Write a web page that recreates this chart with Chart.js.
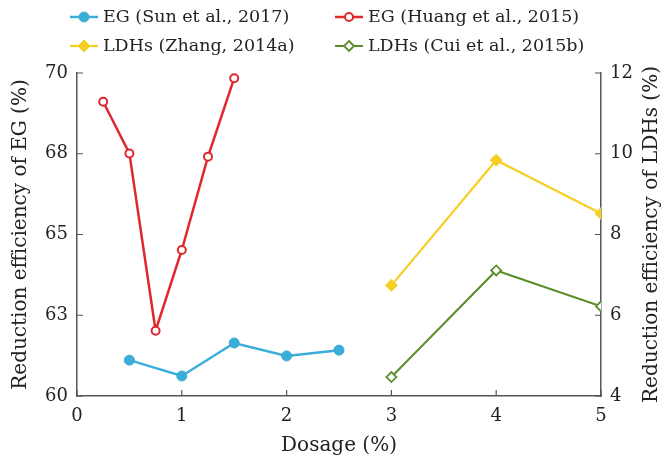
<!DOCTYPE html>
<html>
<head>
<meta charset="utf-8">
<script src="https://cdn.jsdelivr.net/npm/chart.js@4/dist/chart.umd.min.js"></script>
<style>
  body { margin: 0; background: #fff; }
</style>
</head>
<body>
<canvas id="chart" width="664" height="456"></canvas>
<script>
// values
const sunDose = [0.5, 1, 1.5, 2, 2.5];
const sunEff = [61.11, 60.62, 61.64, 61.24, 61.42];
const huangDose = [0.25, 0.5, 0.75, 1, 1.25, 1.5];
const huangEff = [69.11, 67.51, 62.02, 64.52, 67.41, 69.84];
const zhangDose = [3, 4, 5];
const zhangEff = [6.74, 9.84, 8.52];
const cuiDose = [3, 4, 5];
const cuiEff = [4.47, 7.11, 6.22];
const seriesNames = ["EG (Sun et al., 2017)", "EG (Huang et al., 2015)", "LDHs (Zhang, 2014a)", "LDHs (Cui et al., 2015b)"];

const FONT = "'DejaVu Serif', serif";
const AXIS = "#555";

function pts(xs, ys) {
  return xs.map((x, i) => ({ x: x, y: ys[i] }));
}

function marker(ctx, ds, x, y) {
  let r = ds.pointRadius;
  ctx.save();
  ctx.beginPath();
  if (ds.pointStyle === "rectRot") {
    ctx.moveTo(x, y - r); ctx.lineTo(x + r, y); ctx.lineTo(x, y + r); ctx.lineTo(x - r, y); ctx.closePath();
  } else {
    ctx.arc(x, y, r, 0, Math.PI * 2);
  }
  ctx.fillStyle = ds.pointBackgroundColor;
  ctx.fill();
  ctx.lineWidth = ds.pointBorderWidth;
  ctx.strokeStyle = ds.pointBorderColor;
  ctx.stroke();
  ctx.restore();
}

// legend in two rows + inward ticks + right axis title
const extras = {
  id: "extras",
  afterDraw(chart) {
    let ctx = chart.ctx;
    let colX = [70, 335];
    let rowY = [17, 46];
    chart.data.datasets.forEach((ds, i) => {
      let x = colX[i % 2];
      let y = rowY[Math.floor(i / 2)];
      ctx.save();
      ctx.strokeStyle = ds.borderColor;
      ctx.lineWidth = ds.borderWidth;
      ctx.beginPath();
      ctx.moveTo(x, y);
      ctx.lineTo(x + 28, y);
      ctx.stroke();
      ctx.restore();
      marker(ctx, ds, x + 14, y);
      ctx.save();
      ctx.fillStyle = "#222";
      ctx.font = "17.5px " + FONT;
      ctx.textBaseline = "middle";
      ctx.fillText(ds.label, x + 33, y);
      ctx.restore();
    });

    let a = chart.chartArea;
    ctx.save();
    ctx.strokeStyle = AXIS;
    ctx.lineWidth = 1.2;
    ctx.beginPath();
    chart.scales.x.ticks.forEach(t => {
      let px = chart.scales.x.getPixelForValue(t.value);
      ctx.moveTo(px, a.bottom); ctx.lineTo(px, a.bottom - 6);
    });
    chart.scales.y.ticks.forEach(t => {
      let py = chart.scales.y.getPixelForValue(t.value);
      ctx.moveTo(a.left, py); ctx.lineTo(a.left + 6, py);
    });
    chart.scales.y1.ticks.forEach(t => {
      let py = chart.scales.y1.getPixelForValue(t.value);
      ctx.moveTo(a.right, py); ctx.lineTo(a.right - 6, py);
    });
    ctx.stroke();
    ctx.restore();

    ctx.save();
    ctx.translate(652, (a.top + a.bottom) / 2);
    ctx.rotate(-Math.PI / 2);
    ctx.fillStyle = "#222";
    ctx.font = "20px " + FONT;
    ctx.textAlign = "center";
    ctx.textBaseline = "middle";
    ctx.fillText("Reduction efficiency of LDHs (%)", 0, 0);
    ctx.restore();
  }
};

let ctx = document.getElementById("chart").getContext("2d");
const chart = new Chart(ctx, {
  type: "line",
  data: {
    datasets: [
      {
        label: seriesNames[0], data: pts(sunDose, sunEff), yAxisID: "y",
        borderColor: "#3aaed8", borderWidth: 2.5, pointStyle: "circle", pointRadius: 5,
        pointBackgroundColor: "#3aaed8", pointBorderColor: "#3aaed8", pointBorderWidth: 1
      },
      {
        label: seriesNames[1], data: pts(huangDose, huangEff), yAxisID: "y",
        borderColor: "#e0282c", borderWidth: 2.5, pointStyle: "circle", pointRadius: 4,
        pointBackgroundColor: "#fff", pointBorderColor: "#e0282c", pointBorderWidth: 2
      },
      {
        label: seriesNames[2], data: pts(zhangDose, zhangEff), yAxisID: "y1",
        borderColor: "#f6cf25", borderWidth: 2.2, pointStyle: "rectRot", pointRadius: 6,
        pointBackgroundColor: "#f6cf25", pointBorderColor: "#f6cf25", pointBorderWidth: 1
      },
      {
        label: seriesNames[3], data: pts(cuiDose, cuiEff), yAxisID: "y1",
        borderColor: "#5b8c2a", borderWidth: 2, pointStyle: "rectRot", pointRadius: 5,
        pointBackgroundColor: "#fff", pointBorderColor: "#5b8c2a", pointBorderWidth: 1.8
      }
    ]
  },
  options: {
    responsive: false,
    animation: false,
    layout: { padding: { top: 73, left: 0, right: 0, bottom: 0 } },
    plugins: { legend: { display: false }, tooltip: { enabled: false } },
    scales: {
      x: {
        type: "linear", min: 0, max: 5,
        ticks: { stepSize: 1, padding: 10, color: "#222", font: { family: FONT, size: 18 } },
        grid: { display: false, drawTicks: false },
        border: { display: true, color: AXIS, width: 1.5 },
        title: { display: true, text: "Dosage (%)", color: "#222", font: { family: FONT, size: 20 }, padding: { top: 0, bottom: -2 } },
        afterFit(s) { s.height = 60; }
      },
      y: {
        position: "left", min: 60, max: 70,
        ticks: { stepSize: 2.5, padding: 9, color: "#222", font: { family: FONT, size: 18 },
          callback: v => Math.round(v) },
        grid: { display: false, drawTicks: false },
        border: { display: true, color: AXIS, width: 1.5 },
        title: { display: true, text: "Reduction efficiency of EG (%)", color: "#222", font: { family: FONT, size: 20 }, padding: { top: 9, bottom: 0 } },
        afterFit(s) { s.width = 77; }
      },
      y1: {
        position: "right", min: 4, max: 12,
        ticks: { stepSize: 2, padding: 9, color: "#222", font: { family: FONT, size: 18 } },
        grid: { display: false, drawTicks: false },
        border: { display: true, color: AXIS, width: 1.5 },
        afterFit(s) { s.width = 63; }
      }
    }
  },
  plugins: [extras]
});
</script>
</body>
</html>
